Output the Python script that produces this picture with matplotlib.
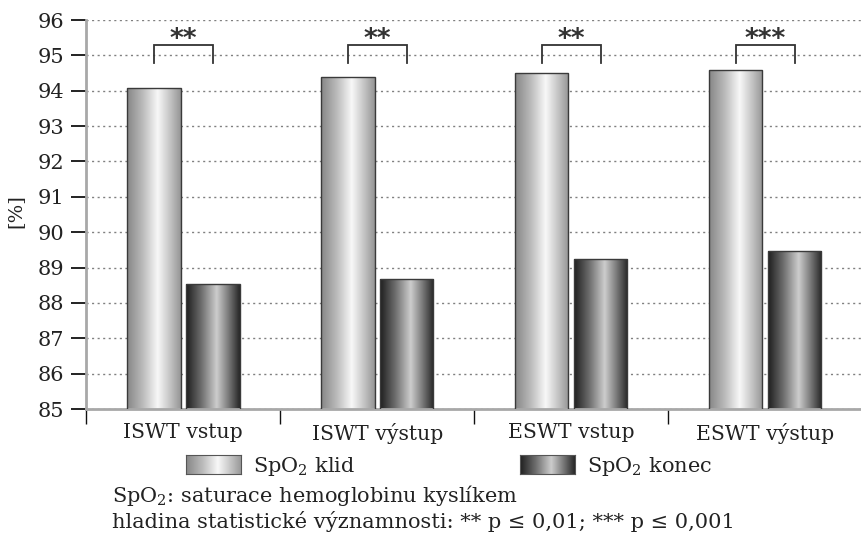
import numpy as np
import matplotlib
matplotlib.use('Agg')
import matplotlib.pyplot as plt
from matplotlib.colors import LinearSegmentedColormap

plt.rcParams['font.family'] = 'DejaVu Serif'
plt.rcParams['mathtext.fontset'] = 'dejavuserif'

# Data
categories = ['ISWT vstup', 'ISWT výstup', 'ESWT vstup', 'ESWT výstup']
spo2_klid = [94.07, 94.40, 94.50, 94.60]
spo2_konec = [88.54, 88.69, 89.25, 89.48]
significance = ['**', '**', '**', '***']
series_labels = ['SpO$_2$ klid', 'SpO$_2$ konec']

# cylinder-like shading for the bars
cmap_klid = LinearSegmentedColormap.from_list('klid', [
    (0.0, '#868686'), (0.3, '#bcbcbc'), (0.57, '#f8f8f8'), (0.8, '#c4c4c4'), (1.0, '#959595')])
cmap_konec = LinearSegmentedColormap.from_list('konec', [
    (0.0, '#1e1e1e'), (0.28, '#6c6c6c'), (0.57, '#cdcdcd'), (0.82, '#6e6e6e'), (1.0, '#262626')])
grad = np.linspace(0, 1, 256).reshape(1, -1)

fig = plt.figure(figsize=(8.62, 5.35), dpi=100)
ax = fig.add_axes([0.1, 0.2355, 0.9, 0.727])

ymin, ymax = 85, 96
x = np.arange(len(categories))
width = 0.277
offset = 0.152

def shaded_bars(xpos, values, cmap):
    bars = ax.bar(xpos, values, width, facecolor='none', edgecolor='#3a3a3a',
                  linewidth=1.0, zorder=3)
    for b in bars:
        x0 = b.get_x()
        im = ax.imshow(grad, cmap=cmap, aspect='auto', zorder=2.5,
                       extent=[x0, x0 + b.get_width(), ymin, b.get_height()],
                       interpolation='bilinear')
        im.set_clip_path(b)
    return bars

shaded_bars(x - offset, spo2_klid, cmap_klid)
shaded_bars(x + offset, spo2_konec, cmap_konec)

# significance brackets
for i, s in enumerate(significance):
    x1, x2 = i - offset, i + offset
    ax.plot([x1, x1, x2, x2], [94.78, 95.29, 95.29, 94.78], color='#333333',
            linewidth=1.3, zorder=4, solid_joinstyle='miter')
    ax.text(i, 95.24, s, ha='center', va='baseline', fontsize=19,
            family='DejaVu Sans', fontweight='bold', color='#333333')

ax.set_xlim(-0.5, len(categories) - 0.5)
ax.set_ylim(ymin, ymax)
ax.set_aspect('auto')
ax.set_yticks(range(ymin, ymax + 1))
ax.yaxis.grid(True, linestyle=(0, (1.5, 2.5)), color='#808080', linewidth=1.0)
ax.set_axisbelow(True)

ax.set_xticks(x)
ax.set_xticklabels(categories, fontsize=14.7, color='#222222')
ax.set_xticks(np.arange(-0.5, len(categories)), minor=True)
ax.tick_params(axis='x', which='major', length=0, pad=10)
ax.tick_params(axis='x', which='minor', length=11, width=1.0, color='#111111',
               direction='out')
ax.tick_params(axis='y', which='major', left=True, length=11, width=1.3,
               color='#111111', direction='out', labelsize=15,
               labelcolor='#222222', pad=5)

for side in ['top', 'right']:
    ax.spines[side].set_visible(False)
for side in ['left', 'bottom']:
    ax.spines[side].set_color('#a8a8a8')
    ax.spines[side].set_linewidth(2.0)

ax.set_ylabel('[%]', fontsize=14, color='#222222')
ax.yaxis.set_label_coords(-0.079, 0.51)

# legend swatches drawn as small image axes
swatches = [(186, 520), (cmap_klid, cmap_konec)]
for left_px, cmap, label in zip(swatches[0], swatches[1], series_labels):
    sw = fig.add_axes([left_px / 862, 1 - 474 / 535, 55 / 862, 19 / 535])
    sw.imshow(grad, cmap=cmap, aspect='auto', interpolation='bilinear')
    sw.set_xticks([])
    sw.set_yticks([])
    for sp in sw.spines.values():
        sp.set_color('#555555')
        sp.set_linewidth(0.8)
    fig.text((left_px + 67) / 862, 1 - 466 / 535, label, fontsize=15,
             color='#222222', va='center', ha='left')

fig.text(112 / 862, 1 - 496 / 535, 'SpO$_2$: saturace hemoglobinu kyslíkem',
         fontsize=15, color='#222222', va='center', ha='left')
fig.text(112 / 862, 1 - 522 / 535,
         'hladina statistické významnosti: ** p ≤ 0,01; *** p ≤ 0,001',
         fontsize=15, color='#222222', va='center', ha='left')

fig.savefig('out.png', dpi=100)
